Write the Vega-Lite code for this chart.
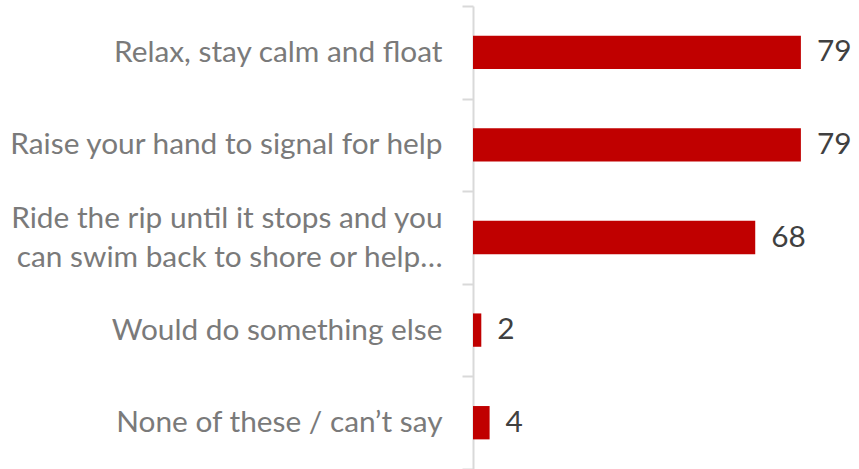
{
  "$schema": "https://vega.github.io/schema/vega-lite/v6.json",
  "width": 386,
  "height": 463,
  "autosize": "none",
  "padding": {"left": 473, "top": 6, "right": 0, "bottom": 0},
  "background": "white",
  "config": {"view": {"stroke": null}},
  "data": {
    "values": [
      {"answer": "Relax, stay calm and float", "pct": 79},
      {"answer": "Raise your hand to signal for help", "pct": 79},
      {"answer": "Ride the rip until it stops and you|can swim back to shore or help…", "pct": 68},
      {"answer": "Would do something else\u00a0", "pct": 2},
      {"answer": "None of these / can’t say", "pct": 4}
    ]
  },
  "encoding": {
    "y": {
      "field": "answer",
      "type": "nominal",
      "sort": null,
      "scale": {"paddingInner": 0, "paddingOuter": 0},
      "axis": {
        "title": null,
        "labelExpr": "split(datum.label, '|')",
        "labelFont": "Lato",
        "labelFontSize": 29.8,
        "labelColor": "#7A7A7A",
        "labelLimit": 0,
        "labelPadding": 20,
        "labelLineHeight": 39,
        "labelOffset": {"condition": {"test": "datum.value === 'Ride the rip until it stops and you|can swim back to shore or help…'", "value": -19.5}, "value": 0},
        "tickBand": "extent",
        "tickSize": 11,
        "tickColor": "#D9D9D9",
        "tickWidth": 2,
        "domainColor": "#D9D9D9",
        "domainWidth": 2
      }
    },
    "x": {
      "field": "pct",
      "type": "quantitative",
      "scale": {"domain": [0, 93], "nice": false},
      "axis": null
    }
  },
  "layer": [
    {"mark": {"type": "bar", "color": "#C00000", "height": {"band": 0.36}}},
    {
      "mark": {"type": "text", "align": "left", "baseline": "middle", "dx": 16, "font": "Lato", "fontSize": 29.8, "color": "#404040"},
      "encoding": {"text": {"field": "pct", "type": "quantitative"}}
    }
  ]
}
